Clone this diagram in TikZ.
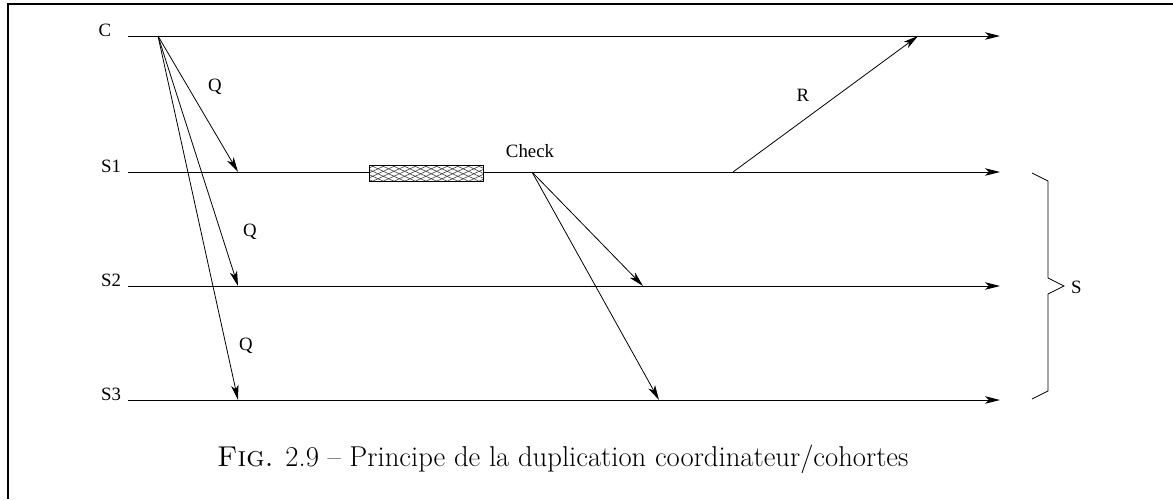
\documentclass[tikz,border=0pt]{standalone}
\usepackage{fontspec}
\newfontfamily\timesfont{Liberation Serif}
\usetikzlibrary{arrows.meta,patterns.meta}

\begin{document}
\begin{tikzpicture}[x=1pt, y=-1pt,
    >={Stealth[length=15pt,width=7.5pt,inset=4pt]},
    lbl/.style={font=\timesfont\fontsize{18.8}{21}\selectfont, inner sep=0pt},
    timeline/.style={->, line width=0.9pt},
    msg/.style={->, line width=0.8pt}]
  \useasboundingbox (0,0) rectangle (1173,499);

  % frame
  \draw[line width=2pt] (7.7,499) -- (7.7,4.2) -- (1173,4.2);

  % time lines
  \foreach \n/\y/\lx in {C/36/105, S1/172/111, S2/286/111, S3/400/111} {
    \node[lbl, anchor=base] (l\n) at (\lx,\y) {\n};
    \coordinate (\n-a) at (128,\y);
    \coordinate (\n-b) at (1000,\y);
    \draw[timeline] (\n-a) -- (\n-b);
  }

  % request from coordinator
  \coordinate (src) at (158,36);
  \coordinate (q1) at (238,172);
  \coordinate (q2) at (238,286);
  \coordinate (q3) at (238,400);
  \foreach \t in {q1,q2,q3} { \draw[msg] (src) -- (\t); }
  \node[lbl] (Qa) at (215,87) {Q};
  \node[lbl] (Qb) at (250,232) {Q};
  \node[lbl] (Qc) at (246,346) {Q};

  % processing on S1
  \fill[white] (369,165) rectangle (483,181);
  \fill[pattern={Lines[angle=25,distance=4.5pt,line width=0.6pt]}, pattern color=black!75] (369,165) rectangle (483,181);
  \fill[pattern={Lines[angle=-25,distance=4.5pt,line width=0.6pt]}, pattern color=black!75] (369,165) rectangle (483,181);
  \draw[line width=0.7pt] (369,165) rectangle (483,181);

  % check
  \node[lbl] (chk) at (530,151) {Check};
  \coordinate (ck) at (532,172);
  \coordinate (ck2) at (643,286);
  \coordinate (ck3) at (659,400);
  \draw[msg] (ck) -- (ck2);
  \draw[msg] (ck) -- (ck3);

  % reply
  \coordinate (r0) at (733,172);
  \coordinate (r1) at (918,36);
  \draw[msg] (r0) -- (r1);
  \node[lbl] (R) at (803,95) {R};

  % brace over the cohorts
  \draw[line width=0.8pt] (1032,173) -- (1048,181) -- (1048,278) -- (1064,286)
    -- (1048,294) -- (1048,391) -- (1032,399);
  \node[lbl, anchor=west] (S) at (1071,287) {S};

  % caption
  \node[font=\fontsize{28.7}{34}\selectfont, anchor=base west, inner sep=0pt] (cap) at (217,466)
    {\textsc{Fig.} 2.9 -- Principe de la duplication coordinateur/cohortes};
\end{tikzpicture}
\end{document}
